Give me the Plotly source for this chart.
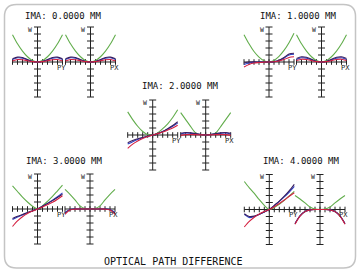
import plotly.graph_objects as go

# ---------------- data (OPD in tick units, pupil coordinate -1..1) ----------------
PUPIL = [-1.0, -0.8, -0.6, -0.4, -0.2, 0.0, 0.2, 0.4, 0.6, 0.8, 1.0]
FIELD_TITLES = ["IMA: 0.0000 MM", "IMA: 1.0000 MM", "IMA: 2.0000 MM",
                "IMA: 3.0000 MM", "IMA: 4.0000 MM"]
TICKS_X = [-1.0, -0.8, -0.6, -0.4, -0.2, 0.0, 0.2, 0.4, 0.6, 0.8, 1.0]
TICKS_Y = [-5, -4, -3, -2, -1, 0, 1, 2, 3, 4, 5]

# tangential fans (PY)
PY_GREEN = [
    [3.9, 2.6, 1.55, 0.75, 0.2, 0.0, 0.2, 0.75, 1.55, 2.6, 3.9],
    [3.9, 2.6, 1.5, 0.7, 0.18, 0.0, 0.22, 0.8, 1.65, 2.75, 4.1],
    [3.3, 2.2, 1.25, 0.5, 0.05, 0.0, 0.3, 0.9, 1.6, 2.5, 3.6],
    [3.3, 2.5, 1.7, 1.0, 0.4, 0.0, 0.45, 1.1, 1.8, 2.6, 3.4],
    [4.0, 3.1, 2.3, 1.4, 0.6, 0.0, 0.3, 0.75, 1.3, 1.95, 2.6],
]
PY_BLUE = [
    [0.35, 0.6, 0.55, 0.3, 0.08, 0.0, 0.08, 0.3, 0.55, 0.6, 0.35],
    [-0.35, -0.15, -0.05, -0.02, 0.0, 0.0, 0.05, 0.22, 0.55, 1.0, 1.1],
    [-1.3, -0.95, -0.65, -0.4, -0.2, 0.0, 0.22, 0.5, 0.85, 1.25, 1.7],
    [-1.5, -1.15, -0.85, -0.55, -0.27, 0.0, 0.4, 0.8, 1.25, 1.75, 2.3],
    [-0.7, -1.15, -1.0, -0.7, -0.35, 0.0, 0.55, 1.15, 1.8, 2.5, 3.3],
]
PY_DARK = [
    [0.45, 0.7, 0.65, 0.35, 0.1, 0.0, 0.1, 0.35, 0.65, 0.7, 0.45],
    [-0.15, 0.0, 0.02, 0.0, 0.0, 0.0, 0.05, 0.25, 0.65, 1.15, 1.25],
    [-1.1, -0.8, -0.55, -0.35, -0.17, 0.0, 0.22, 0.5, 0.9, 1.35, 1.9],
    [-1.35, -1.05, -0.78, -0.5, -0.25, 0.0, 0.38, 0.78, 1.2, 1.65, 2.1],
    [-0.6, -1.0, -0.95, -0.68, -0.35, 0.0, 0.6, 1.2, 1.9, 2.7, 3.6],
]
PY_RED = [
    [0.15, 0.35, 0.32, 0.18, 0.05, 0.0, 0.05, 0.18, 0.32, 0.35, 0.15],
    [-0.7, -0.35, -0.15, -0.08, -0.02, 0.0, 0.03, 0.15, 0.35, 0.65, 0.75],
    [-1.9, -1.3, -0.85, -0.5, -0.22, 0.0, 0.2, 0.42, 0.7, 1.0, 1.4],
    [-2.5, -1.7, -1.1, -0.65, -0.3, 0.0, 0.3, 0.6, 0.95, 1.4, 1.9],
    [-2.5, -1.7, -1.1, -0.65, -0.3, 0.0, 0.4, 0.85, 1.35, 1.9, 2.4],
]

# sagittal fans (PX)
PX_GREEN = [
    [3.9, 2.6, 1.55, 0.75, 0.2, 0.0, 0.2, 0.75, 1.55, 2.6, 3.9],
    [3.9, 2.6, 1.55, 0.75, 0.2, 0.0, 0.2, 0.75, 1.55, 2.6, 3.9],
    [3.2, 2.2, 1.2, 0.3, 0.03, 0.0, 0.03, 0.3, 1.2, 2.2, 3.2],
    [2.8, 2.1, 1.3, 0.45, 0.05, 0.0, 0.05, 0.45, 1.3, 2.1, 2.8],
    [2.0, 1.5, 0.95, 0.35, 0.05, 0.0, 0.05, 0.35, 0.95, 1.5, 2.0],
]
PX_BLUE = [
    [0.35, 0.6, 0.55, 0.3, 0.08, 0.0, 0.08, 0.3, 0.55, 0.6, 0.35],
    [0.35, 0.6, 0.55, 0.3, 0.08, 0.0, 0.08, 0.3, 0.55, 0.6, 0.35],
    [0.15, 0.28, 0.25, 0.15, 0.05, 0.0, 0.05, 0.15, 0.25, 0.28, 0.15],
    [-0.45, -0.08, 0.0, 0.0, 0.0, 0.0, 0.0, 0.0, 0.0, -0.08, -0.45],
    [-2.0, -0.9, -0.28, -0.05, 0.0, 0.0, 0.0, -0.05, -0.28, -0.9, -2.0],
]
PX_DARK = [
    [0.45, 0.7, 0.65, 0.35, 0.1, 0.0, 0.1, 0.35, 0.65, 0.7, 0.45],
    [0.5, 0.75, 0.68, 0.38, 0.1, 0.0, 0.1, 0.38, 0.68, 0.75, 0.5],
    [0.25, 0.35, 0.3, 0.2, 0.07, 0.0, 0.07, 0.2, 0.3, 0.35, 0.25],
    [-0.6, -0.1, 0.0, 0.0, 0.0, 0.0, 0.0, 0.0, 0.0, -0.1, -0.6],
    [-2.05, -0.92, -0.29, -0.05, 0.0, 0.0, 0.0, -0.05, -0.29, -0.92, -2.05],
]
PX_RED = [
    [0.15, 0.35, 0.32, 0.18, 0.05, 0.0, 0.05, 0.18, 0.32, 0.35, 0.15],
    [0.2, 0.4, 0.35, 0.2, 0.05, 0.0, 0.05, 0.2, 0.35, 0.4, 0.2],
    [-0.05, 0.05, 0.08, 0.05, 0.02, 0.0, 0.02, 0.05, 0.08, 0.05, -0.05],
    [-0.75, -0.15, -0.02, 0.0, 0.0, 0.0, 0.0, 0.0, -0.02, -0.15, -0.75],
    [-2.1, -0.95, -0.3, -0.06, 0.0, 0.0, 0.0, -0.06, -0.3, -0.95, -2.1],
]

SERIES_COLORS = {"green": "#62ad4c", "blue": "#2b3fc4", "dark": "#3a2060", "red": "#d42040"}

# ---------------- layout geometry (pixels) ----------------
W, H = 360, 273
UX, UY = 25.0, 7.0          # px per pupil unit, px per tick
XR, YR = 1.3, 5.6           # axis half ranges
# (left fan centre x, right fan centre x, centre y, title centre x, title y)
PANELS = [
    (37.5, 90.5, 62.0, 63, 16),
    (269.0, 321.5, 62.0, 298, 16),
    (152.7, 205.7, 135.0, 180, 86),
    (37.5, 90.0, 209.0, 64, 161),
    (269.3, 320.0, 209.5, 301, 161),
]
FONT = "DejaVu Sans Mono, Liberation Mono, monospace"

fig = go.Figure()
layout = dict(width=W, height=H, margin=dict(l=0, r=0, t=0, b=0),
              paper_bgcolor="white", plot_bgcolor="rgba(0,0,0,0)",
              showlegend=False)
annotations = []

def px2x(px):
    return px / W

def py2y(py):
    return 1 - py / H

idx = 0
for f, (cxl, cxr, cy, tx, ty) in enumerate(PANELS):
    fans = [
        (cxl, "PY", PY_GREEN[f], PY_BLUE[f], PY_DARK[f], PY_RED[f]),
        (cxr, "PX", PX_GREEN[f], PX_BLUE[f], PX_DARK[f], PX_RED[f]),
    ]
    for cx, lab, g, b, d, r in fans:
        idx += 1
        xa, ya = f"xaxis{idx}", f"yaxis{idx}"
        xr, yr = f"x{idx}", f"y{idx}"
        layout[xa] = dict(domain=[px2x(cx - XR * UX), px2x(cx + XR * UX)],
                          range=[-XR, XR], visible=False, anchor=yr, fixedrange=True)
        layout[ya] = dict(domain=[py2y(cy + YR * UY), py2y(cy - YR * UY)],
                          range=[-YR, YR], visible=False, anchor=xr, fixedrange=True)
        # axis lines
        fig.add_trace(go.Scatter(x=[TICKS_X[0], TICKS_X[-1]], y=[0, 0], mode="lines",
                                 line=dict(color="#222", width=1), xaxis=xr, yaxis=yr,
                                 hoverinfo="skip"))
        fig.add_trace(go.Scatter(x=[0, 0], y=[TICKS_Y[0], TICKS_Y[-1]], mode="lines",
                                 line=dict(color="#222", width=1), xaxis=xr, yaxis=yr,
                                 hoverinfo="skip"))
        fig.add_trace(go.Scatter(x=TICKS_X, y=[0] * len(TICKS_X), mode="markers",
                                 marker=dict(symbol="line-ns", size=4,
                                             line=dict(color="#222", width=1)),
                                 xaxis=xr, yaxis=yr, hoverinfo="skip"))
        fig.add_trace(go.Scatter(x=[0] * len(TICKS_Y), y=TICKS_Y, mode="markers",
                                 marker=dict(symbol="line-ew", size=5,
                                             line=dict(color="#222", width=1)),
                                 xaxis=xr, yaxis=yr, hoverinfo="skip"))
        for name, vals in (("green", g), ("blue", b), ("dark", d), ("red", r)):
            fig.add_trace(go.Scatter(x=PUPIL, y=vals, mode="lines",
                                     line=dict(color=SERIES_COLORS[name], width=1.1,
                                               shape="spline", smoothing=0.8),
                                     xaxis=xr, yaxis=yr, hoverinfo="skip"))
        annotations.append(dict(x=-0.3, y=4.6, xref=xr, yref=yr, text="W",
                                xanchor="center", yanchor="middle",
                                showarrow=False, font=dict(family=FONT, size=6.5, color="#222")))
        annotations.append(dict(x=0.95, y=-0.85, xref=xr, yref=yr, text=lab,
                                xanchor="center", yanchor="middle",
                                showarrow=False, font=dict(family=FONT, size=7, color="#222")))
    annotations.append(dict(x=px2x(tx), y=py2y(ty), xref="paper", yref="paper",
                            xanchor="center", yanchor="middle",
                            text=FIELD_TITLES[f], showarrow=False,
                            font=dict(family=FONT, size=9, color="#111")))

annotations.append(dict(x=px2x(173), y=py2y(261), xref="paper", yref="paper",
                        xanchor="center", yanchor="middle",
                        text="OPTICAL PATH DIFFERENCE", showarrow=False,
                        font=dict(family=FONT, size=10, color="#111")))
layout["annotations"] = annotations

# rounded card border
x0, x1, y0, y1, rr = 4.5, 355.5, 4.5, 268.0, 12.0
def P(px, py):
    return f"{px2x(px):.5f},{py2y(py):.5f}"
path = (f"M {P(x0 + rr, y0)} L {P(x1 - rr, y0)} Q {P(x1, y0)} {P(x1, y0 + rr)} "
        f"L {P(x1, y1 - rr)} Q {P(x1, y1)} {P(x1 - rr, y1)} "
        f"L {P(x0 + rr, y1)} Q {P(x0, y1)} {P(x0, y1 - rr)} "
        f"L {P(x0, y0 + rr)} Q {P(x0, y0)} {P(x0 + rr, y0)} Z")
layout["shapes"] = [dict(type="path", path=path, xref="paper", yref="paper",
                         line=dict(color="#c4c4c4", width=1.5), layer="below")]

fig.update_layout(**layout)
fig.write_html("out.html")
